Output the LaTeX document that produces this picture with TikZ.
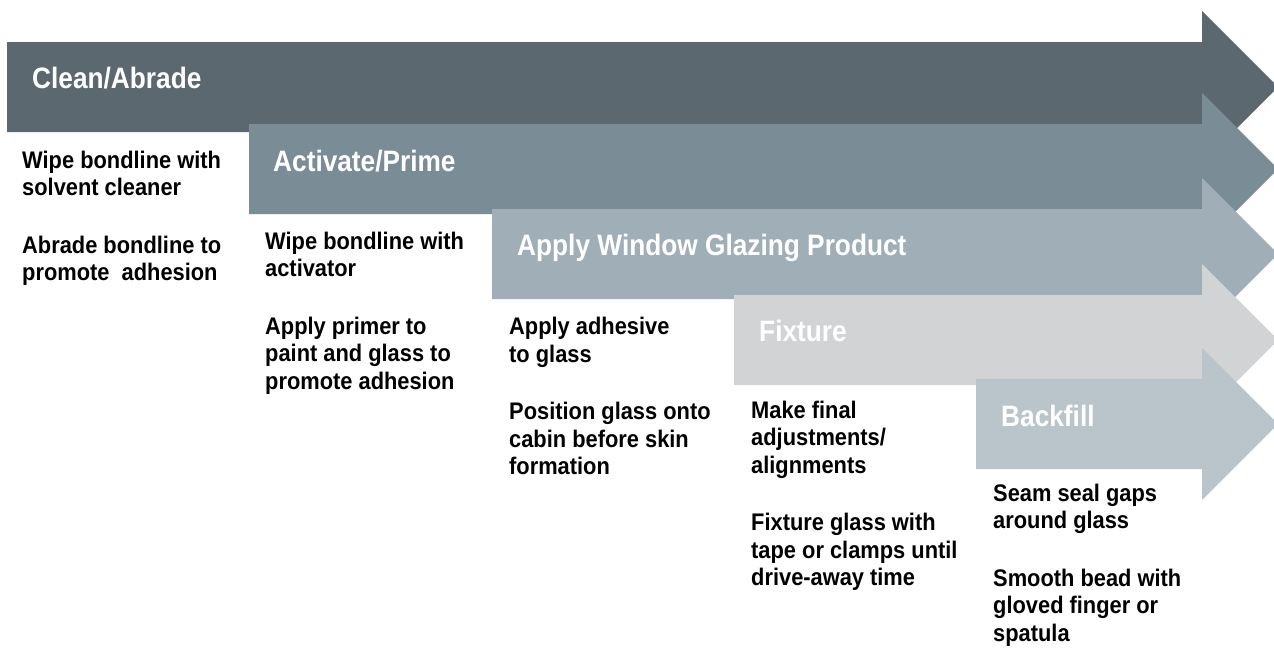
\documentclass[tikz,border=0pt]{standalone}
\usepackage{fontspec}
\newfontfamily\tfam{Liberation Sans}[FakeStretch=0.89]
\newfontfamily\bfam{Liberation Sans}[FakeStretch=0.91]
\definecolor{aone}{RGB}{91,104,112}
\definecolor{atwo}{RGB}{122,140,150}
\definecolor{athree}{RGB}{160,174,183}
\definecolor{afour}{RGB}{210,211,213}
\definecolor{afive}{RGB}{186,196,203}
\newcommand\steparrow[3]{%
  \fill[#3] (#1,{#2-45}) -- (1202,{#2-45}) -- (1202,{#2-76}) -- (1278,#2)
    -- (1202,{#2+76}) -- (1202,{#2+45}) -- (#1,{#2+45}) -- cycle;}
\tikzset{
  title/.style={anchor=base west, inner sep=0pt, text=white,
    font=\tfam\bfseries\fontsize{29.5}{31}\selectfont},
  body/.style={anchor=north west, inner sep=0pt, align=left, text=black,
    font=\bfam\bfseries\fontsize{24}{27.5}\selectfont}
}
\begin{document}
\begin{tikzpicture}[x=1pt,y=-1pt]
\clip (0,0) rectangle (1274,670);
\fill[white] (0,0) rectangle (1274,670);
\steparrow{7}{87}{aone}
\steparrow{249}{169}{atwo}
\steparrow{492}{254}{athree}
\steparrow{734}{340}{afour}
\steparrow{976}{424}{afive}
\node[title] (t1) at (32,88) {Clean/Abrade};
\node[title] (t2) at (273,171) {Activate/Prime};
\node[title] (t3) at (517,255) {Apply Window Glazing Product};
\node[title] (t4) at (759,341) {Fixture};
\node[title] (t5) at (1001,426) {Backfill};
\node[body] (b1) at (22,148.75) {\strut Wipe bondline with\\solvent cleaner\\[30pt]Abrade bondline to\\promote~ adhesion};
\node[body] (b2) at (265,229.75) {\strut Wipe bondline with\\activator\\[30pt]Apply primer to\\paint and glass to\\promote adhesion};
\node[body] (b3) at (509,315.25) {\strut Apply adhesive\\to glass\\[30pt]Position glass onto\\cabin before skin\\formation};
\node[body] (b4) at (751,398.75) {\strut Make final\\adjustments/\\alignments\\[30pt]Fixture glass with\\tape or clamps until\\drive-away time};
\node[body] (b5) at (993,481.75) {\strut Seam seal gaps\\around glass\\[30pt]Smooth bead with\\gloved finger or\\spatula};
\end{tikzpicture}
\end{document}
